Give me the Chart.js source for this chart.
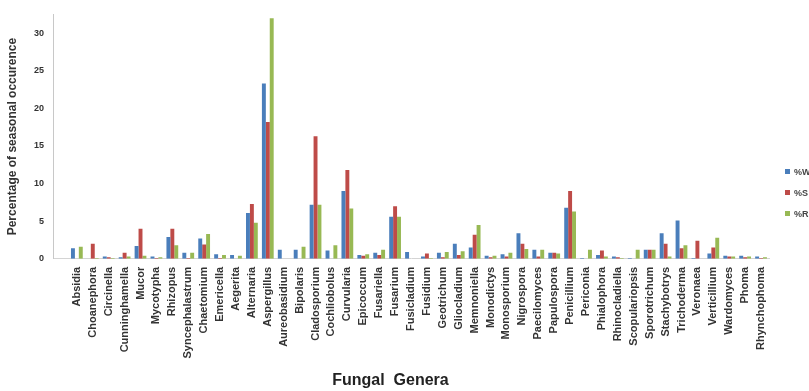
<!DOCTYPE html>
<html>
<head>
<meta charset="utf-8">
<script src="https://cdn.jsdelivr.net/npm/chart.js@4.4.1/dist/chart.umd.min.js"></script>
<style>
  html, body { margin: 0; padding: 0; background: #ffffff; overflow: hidden; }
  #wrap { position: relative; width: 809px; height: 391px; overflow: hidden; }
  #legend { position: absolute; left: 785px; top: 165px; font: bold 9px "Liberation Sans", Arial, sans-serif; color: #444; white-space: nowrap; }
  #legend div { height: 21px; line-height: 14px; }
  #legend span.sw { display: inline-block; width: 5px; height: 5px; margin-right: 4px; vertical-align: 1px; }
</style>
</head>
<body>
<div id="wrap">
  <canvas id="chart" width="809" height="391"></canvas>
  <div id="legend"></div>
</div>
<script>
// Fungal genera (first slot is an empty category before Absidia)
const genera = ['', 'Absidia', 'Choanephora', 'Circinella', 'Cunninghamella', 'Mucor', 'Mycotypha',
  'Rhizopus', 'Syncephalastrum', 'Chaetomium', 'Emericella', 'Aegerita', 'Alternaria', 'Aspergillus',
  'Aureobasidium', 'Bipolaris', 'Cladosporium', 'Cochliobolus', 'Curvularia', 'Epicoccum', 'Fusariella',
  'Fusarium', 'Fusicladium', 'Fusidium', 'Geotrichum', 'Gliocladium', 'Memnoniella', 'Monodictys',
  'Monosporium', 'Nigrospora', 'Paecilomyces', 'Papulospora', 'Penicillium', 'Periconia', 'Phialophora',
  'Rhinocladiella', 'Scopulariopsis', 'Sporotrichum', 'Stachybotrys', 'Trichoderma', 'Veronaea',
  'Verticillium', 'Wardomyces', 'Phoma', 'Rhynchophoma'];

const seasonLabels = ['%W', '%S', '%R'];

// Percentage of seasonal occurrence per genus
const pctW = [0, 1.4, 0, 0.3, 0.2, 1.7, 0.3, 2.9, 0.8, 2.7, 0.6, 0.5, 6.1, 23.3, 1.2, 1.2, 7.2, 1.1, 9.0, 0.5,
  0.8, 5.6, 0.9, 0.3, 0.8, 2.0, 1.5, 0.4, 0.6, 3.4, 1.2, 0.8, 6.8, 0.1, 0.5, 0.3, 0.1, 1.2, 3.4, 5.1, 0.1,
  0.7, 0.4, 0.4, 0.3];
const pctS = [0, 0, 2.0, 0.2, 0.8, 4.0, 0.1, 4.0, 0.1, 1.9, 0.1, 0, 7.3, 18.2, 0, 0, 16.3, 0, 11.8, 0.4,
  0.5, 7.0, 0, 0.7, 0.2, 0.5, 3.2, 0.2, 0.3, 2.0, 0.3, 0.8, 9.0, 0, 1.1, 0.2, 0, 1.2, 2.0, 1.4, 2.4,
  1.5, 0.3, 0.2, 0.1];
const pctR = [0, 1.6, 0.1, 0.1, 0.3, 0.4, 0.2, 1.8, 0.8, 3.3, 0.5, 0.4, 4.8, 32.0, 0, 1.6, 7.2, 1.8, 6.7, 0.6,
  1.2, 5.6, 0, 0.1, 0.9, 1.0, 4.5, 0.4, 0.8, 1.3, 1.2, 0.7, 6.3, 1.2, 0.3, 0.1, 1.2, 1.2, 0.3, 1.8, 0,
  2.8, 0.3, 0.3, 0.2];

const yTicks = [0, 5, 10, 15, 20, 25, 30];

const seriesColors = ['#4a7ebb', '#be4b48', '#98b954'];
const seriesData = [pctW, pctS, pctR];

const datasets = seriesData.map((d, i) => ({
  label: seasonLabels[i],
  data: d,
  backgroundColor: seriesColors[i],
  borderWidth: 0,
  categoryPercentage: 0.74,
  barPercentage: 1.0
}));

const font = '"Liberation Sans", Arial, sans-serif';

const chart = new Chart(document.getElementById('chart'), {
  type: 'bar',
  data: { labels: genera, datasets },
  options: {
    responsive: false,
    animation: false,
    devicePixelRatio: 1,
    layout: { padding: { left: 12, right: 40, top: 11, bottom: 0 } },
    plugins: {
      legend: { display: false },
      tooltip: { enabled: false },
      title: {
        display: true,
        position: 'bottom',
        text: 'Fungal  Genera',
        color: '#222',
        font: { family: font, size: 16, weight: 'bold' },
        padding: { top: 0, bottom: 1 }
      }
    },
    scales: {
      x: {
        grid: { display: false, drawTicks: false },
        border: { display: true, color: '#d4d4d4' },
        ticks: {
          autoSkip: false,
          minRotation: 90,
          maxRotation: 90,
          padding: 8,
          color: '#333',
          font: { family: font, size: 11, weight: 'bold' }
        },
        afterFit: s => { s.height = 112; }
      },
      y: {
        min: 0,
        max: 32.5,
        grid: { display: false, drawTicks: false },
        border: { display: true, color: '#c8c8c8' },
        afterBuildTicks: s => { s.ticks = yTicks.map(v => ({ value: v })); },
        ticks: {
          padding: 9,
          color: '#333',
          font: { family: font, size: 9, weight: 'bold' }
        },
        title: {
          display: true,
          text: 'Percentage of seasonal occurence',
          color: '#333',
          font: { family: font, size: 12, weight: 'bold' },
          padding: { top: -7, bottom: 0 }
        },
        afterFit: s => { s.width = 41; }
      }
    }
  }
});

// Legend built from the dataset labels and colours
const legendEl = document.getElementById('legend');
chart.data.datasets.forEach(ds => {
  const row = document.createElement('div');
  const sw = document.createElement('span');
  sw.className = 'sw';
  sw.style.background = ds.backgroundColor;
  row.appendChild(sw);
  row.appendChild(document.createTextNode(ds.label));
  legendEl.appendChild(row);
});
</script>
</body>
</html>
